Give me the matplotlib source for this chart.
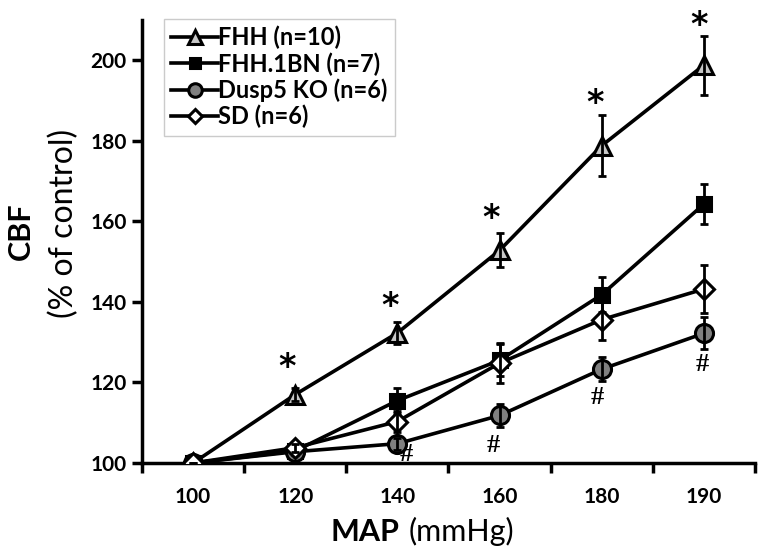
import matplotlib
matplotlib.use("Agg")
import matplotlib.pyplot as plt
import numpy as np

categories = ['100', '120', '140', '160', '180', '190']
fhh = [100, 117.0, 132.3, 152.8, 178.8, 198.8]
fhh_err = [0, 1.5, 2.8, 4.2, 7.5, 7.3]
fhh1bn = [100, 103.0, 115.5, 125.5, 141.8, 164.3]
fhh1bn_err = [0, 1.0, 3.2, 4.0, 4.3, 5.0]
dusp5 = [100, 102.8, 104.8, 111.8, 123.3, 132.2]
dusp5_err = [0, 0.8, 1.5, 2.8, 3.0, 4.0]
sd = [100, 103.8, 110.3, 124.8, 135.6, 143.2]
sd_err = [0, 1.0, 2.5, 5.0, 5.0, 6.0]

# significance marks (category index, value)
star_x = [0.92, 1.93, 2.92, 3.93, 4.95]
star_y = [125.8, 141.0, 162.9, 191.4, 210.8]
hash_x = [2.09, 2.94, 3.96, 4.98]
hash_y = [102.2, 104.3, 116.2, 124.5]

yticks = [100, 120, 140, 160, 180, 200]

plt.rcParams['font.family'] = ['Lato', 'DejaVu Sans']

fig = plt.figure(figsize=(7.66, 5.58), dpi=100)
ax = fig.add_axes([142/766, 1-463/558, (755-142)/766, (463-20)/558])

x = np.arange(len(categories))
series = [
    (fhh, fhh_err, '^', '#c8c8c8', 13, 'FHH (n=10)'),
    (fhh1bn, fhh1bn_err, 's', 'black', 10, 'FHH.1BN (n=7)'),
    (dusp5, dusp5_err, 'o', '#808080', 13, 'Dusp5 KO (n=6)'),
    (sd, sd_err, 'D', 'white', 10, 'SD (n=6)'),
]
handles = []
for i, (vals, err, mk, fc, ms, lab) in enumerate(series):
    ax.errorbar(x, vals, yerr=err, fmt='none', ecolor='black', elinewidth=2,
                capsize=3, capthick=2, zorder=5 + i)
    h, = ax.plot(x, vals, color='black', lw=2.6, marker=mk, ms=ms,
                 mfc=fc, mec='black', mew=2.2, label=lab, zorder=4 + i)
    handles.append(h)

for sx, sy in zip(star_x, star_y):
    ax.annotate('*', (sx, sy), xytext=(0, -6), textcoords='offset points',
                ha='center', va='center', fontsize=24, fontweight='bold',
                family='DejaVu Sans', annotation_clip=False)
for hx, hy in zip(hash_x, hash_y):
    ax.text(hx, hy, '#', ha='center', va='center', fontsize=19,
            fontweight='bold', family='Liberation Serif')

ax.set_xlim(-0.5, len(categories) - 0.5)
ax.set_ylim(100, 210)
ax.set_xticks(x)
ax.set_xticklabels(categories, fontsize=15, fontweight='bold')
ax.set_xticks(np.arange(len(categories) + 1) - 0.5, minor=True)
ax.tick_params(axis='x', which='major', length=0, pad=17)
ax.tick_params(axis='x', which='minor', length=7, width=2.5, direction='out')
ax.set_yticks(yticks)
ax.set_yticklabels([str(t) for t in yticks], fontsize=15, fontweight='bold')
ax.tick_params(axis='y', length=7, width=2.5, direction='out', pad=4)
for s in ['top', 'right']:
    ax.spines[s].set_visible(False)
for s in ['left', 'bottom']:
    ax.spines[s].set_linewidth(2.5)

leg = ax.legend(handles=handles, loc='upper left', bbox_to_anchor=(22/613, 1.003),
                prop={'weight': 'bold', 'size': 17}, frameon=True, fancybox=False,
                edgecolor='#bfbfbf', handlelength=2.0, handletextpad=0.0,
                labelspacing=0.12, borderpad=0.3, borderaxespad=0.0,
                markerscale=0.75)
leg.get_frame().set_linewidth(1.0)

# axis titles
fig.text(0.522, 0.03, 'MAP', ha='right', va='baseline', fontsize=22, fontweight='bold')
fig.text(0.534, 0.03, '(mmHg)', ha='left', va='baseline', fontsize=22)
fig.text(0.027, 0.585, 'CBF', rotation=90, ha='center', va='center', fontsize=22, fontweight='bold')
fig.text(0.083, 0.6, '(% of control)', rotation=90, ha='center', va='center', fontsize=23)

fig.savefig('out.png', dpi=100)
